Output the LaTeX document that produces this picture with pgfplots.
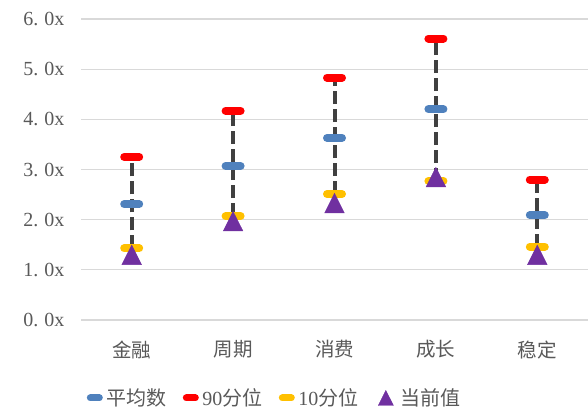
\documentclass[border=0pt]{standalone}
\usepackage{pgfplots}
\pgfplotsset{compat=1.18}
\usepackage{fontspec}
\setmainfont{Liberation Serif}
\newfontfamily\cjk{Noto Sans CJK SC}
\definecolor{cblue}{HTML}{4F81BD}
\definecolor{cred}{HTML}{FF0000}
\definecolor{cyellow}{HTML}{FFC000}
\definecolor{cpurple}{HTML}{7030A0}
\definecolor{dline}{HTML}{404040}
\definecolor{gridgray}{HTML}{D9D9D9}
\definecolor{txtgray}{HTML}{595959}
\begin{document}
\begin{tikzpicture}
\begin{axis}[
  at={(0,0)}, anchor=south west,
  scale only axis, width=507pt, height=301pt,
  xmin=-0.5, xmax=4.5, ymin=0, ymax=6,
  axis line style={draw=none},
  tick style={draw=none},
  ymajorgrids, grid style={color=gridgray, line width=1.2pt},
  ytick={0,1,2,3,4,5,6},
  yticklabels={{0.\hspace{0.3em}0x},{1.\hspace{0.3em}0x},{2.\hspace{0.3em}0x},{3.\hspace{0.3em}0x},{4.\hspace{0.3em}0x},{5.\hspace{0.3em}0x},{6.\hspace{0.3em}0x}},
  xtick={0,1,2,3,4},
  xticklabels={金融,周期,消费,成长,稳定},
  yticklabel style={font=\fontsize{20}{22}\selectfont, text=txtgray, xshift=-13pt},
  xticklabel style={font=\cjk\fontsize{19.5}{22}\selectfont, text=txtgray, yshift=-17pt},
  legend style={at={(0.018,-0.259)}, anchor=west, draw=none, fill=none,
    font=\fontsize{20}{22}\selectfont, text=txtgray,
    /tikz/every odd column/.append style={column sep=5pt},
    /tikz/every even column/.append style={column sep=18pt},
    inner sep=0pt},
  legend columns=-1,
  clip=false,
]
\coordinate (SW) at (rel axis cs:0,0);
\coordinate (NE) at (rel axis cs:1,1);
% dashed ranges (10th to 90th percentile)
\addplot[forget plot, dline, line width=4pt, dash pattern=on 13pt off 5pt] coordinates {(0,1.43) (0,3.25)};
\addplot[forget plot, dline, line width=4pt, dash pattern=on 13pt off 5pt] coordinates {(1,2.07) (1,4.17)};
\addplot[forget plot, dline, line width=4pt, dash pattern=on 13pt off 5pt] coordinates {(2,2.51) (2,4.83)};
\addplot[forget plot, dline, line width=4pt, dash pattern=on 13pt off 5pt] coordinates {(3,2.77) (3,5.61)};
\addplot[forget plot, dline, line width=4pt, dash pattern=on 13pt off 5pt] coordinates {(4,1.46) (4,2.80)};
% 90th
\addplot[forget plot, only marks, mark=-, mark size=7.5pt, mark options={draw=cred, line width=8pt, line cap=round}]
  coordinates {(0,3.25) (1,4.17) (2,4.83) (3,5.61) (4,2.80)};
% mean
\addplot[forget plot, only marks, mark=-, mark size=7.5pt, mark options={draw=cblue, line width=8pt, line cap=round}]
  coordinates {(0,2.31) (1,3.07) (2,3.63) (3,4.20) (4,2.09)};
% 10th
\addplot[forget plot, only marks, mark=-, mark size=7.5pt, mark options={draw=cyellow, line width=8pt, line cap=round}]
  coordinates {(0,1.43) (1,2.07) (2,2.51) (3,2.77) (4,1.46)};
% current
\addplot[forget plot, only marks, mark=triangle*, mark size=13pt, mark options={fill=cpurple, draw=cpurple, xscale=0.87, yshift=-3.3pt}]
  coordinates {(0,1.30) (1,1.97) (2,2.33) (3,2.85) (4,1.30)};
\addlegendimage{only marks, mark=-, mark size=4.5pt, mark options={draw=cblue, line width=7pt, line cap=round}}
\addlegendentry{\cjk 平均数}
\addlegendimage{only marks, mark=-, mark size=4.5pt, mark options={draw=cred, line width=7pt, line cap=round}}
\addlegendentry{90\cjk 分位}
\addlegendimage{only marks, mark=-, mark size=4.5pt, mark options={draw=cyellow, line width=7pt, line cap=round}}
\addlegendentry{10\cjk 分位}
\addlegendimage{only marks, mark=triangle*, mark size=10pt, mark options={fill=cpurple, draw=cpurple, xscale=0.87, yshift=-2.5pt}}
\addlegendentry{\cjk 当前值}
\end{axis}
\pgfresetboundingbox
\path[use as bounding box] ([xshift=-81pt,yshift=-89pt]SW) rectangle ([yshift=19pt]NE);
\end{tikzpicture}
\end{document}
